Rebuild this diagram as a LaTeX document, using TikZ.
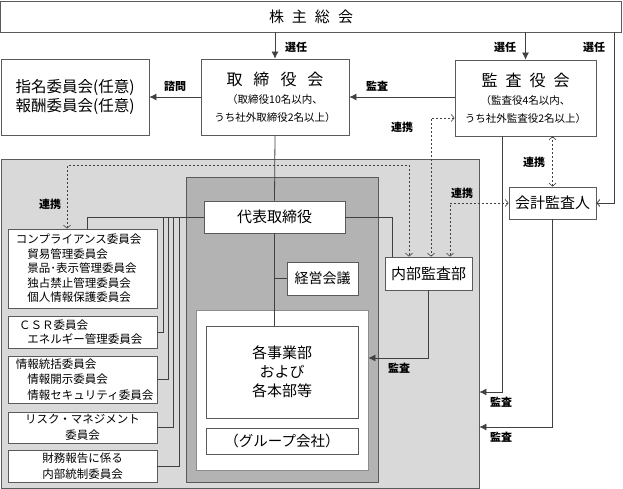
\documentclass[tikz,border=0pt]{standalone}
\usepackage{fontspec}
\setmainfont{Noto Sans CJK JP}
\usetikzlibrary{arrows.meta}
\definecolor{zonegray}{HTML}{D9D9D9}
\definecolor{execgray}{HTML}{B3B3B3}
\definecolor{boxline}{HTML}{5A5A5A}
\definecolor{lineclr}{HTML}{404040}
\definecolor{framegray}{HTML}{8C8C8C}

\begin{document}
\begin{tikzpicture}
[x=1pt,y=-1pt]
\tikzset{box/.style={draw=boxline,fill=white,line width=.8pt,inner sep=0pt}}
\tikzset{com/.style={box,minimum width=149,text width=133,inner xsep=8,align=left,font=\fontsize{11.5}{14.5}\selectfont}}
\tikzset{comc/.style={com,align=center,font=\fontsize{11.5}{16}\selectfont}}
\tikzset{conn/.style={draw=lineclr,line width=.8pt}}
\tikzset{arr/.style={conn,-{Latex[length=7pt,width=7pt]}}}
\tikzset{renkei/.style={conn,line width=.6pt,dash pattern=on 2pt off 2pt,{Straight Barb[length=3pt,width=7pt]}-{Straight Barb[length=3pt,width=7pt]}}}
\tikzset{lbl/.style={font=\fontsize{11}{13}\selectfont\bfseries,inner sep=1pt}}
\useasboundingbox (0,0) rectangle (623,489);

% areas
\node [draw=boxline,fill=zonegray,line width=.8pt,minimum width=478,minimum height=329,inner sep=0] (zone) at (240,323.5) {};
\node [draw=boxline,fill=execgray,line width=.8pt,minimum width=192,minimum height=305,inner sep=0] (shikko) at (282,329.5) {};
\node [draw=framegray,fill=white,line width=.8pt,minimum width=172,minimum height=160,inner sep=0] (kaisha) at (282,390) {};

% top level
\node [box,minimum width=621,minimum height=31,font=\fontsize{15}{18}\selectfont] (soukai) at (311,16.5) {株\hspace{8pt}主\hspace{8pt}総\hspace{8pt}会};
\node [box,minimum width=148,minimum height=76,align=center,font=\fontsize{15.5}{19}\selectfont] (shimei) at (75,97) {指名委員会(任意)\\報酬委員会(任意)};
\node [box,minimum width=148,minimum height=76,align=center,font=\fontsize{10.5}{18}\selectfont] (torishimari) at (275,97) {{\fontsize{16}{18}\selectfont 取\hspace{11pt}締\hspace{11pt}役\hspace{11pt}会}\\（取締役10名以内、\\うち社外取締役2名以上）};
\node [box,minimum width=141,minimum height=76,align=center,font=\fontsize{10.5}{18}\selectfont] (kansayaku) at (525.5,98) {{\fontsize{16}{18}\selectfont 監\hspace{8pt}査\hspace{8pt}役\hspace{8pt}会}\\（監査役4名以内、\\うち社外監査役2名以上）};

% execution
\node [box,minimum width=141,minimum height=32,font=\fontsize{15}{18}\selectfont] (daihyo) at (274.5,217) {代表取締役};
\node [box,minimum width=71,minimum height=33,font=\fontsize{14}{17}\selectfont] (keiei) at (322.5,278.5) {経営会議};
\node [box,minimum width=152,minimum height=92,align=center,font=\fontsize{15}{19}\selectfont] (jigyo) at (282,372) {各事業部\\および\\各本部等};
\node [box,minimum width=152,minimum height=26,font=\fontsize{14.5}{17}\selectfont] (group) at (282,441) {（グループ会社）};
\node [box,minimum width=87,minimum height=33,font=\fontsize{15}{18}\selectfont] (naibu) at (428.5,273.5) {内部監査部};
\node [box,minimum width=87,minimum height=32,font=\fontsize{15}{18}\selectfont] (kaikei) at (552.5,203) {会計監査人};

% committees
\node [com,minimum height=79] (compliance) at (82.5,268.5) {コンプライアンス委員会\\\hspace*{1em}貿易管理委員会\\\hspace*{1em}景品･表示管理委員会\\\hspace*{1em}独占禁止管理委員会\\\hspace*{1em}個人情報保護委員会};
\node [com,minimum height=32] (csr) at (82.5,332) {\hspace*{3pt}ＣＳＲ委員会\\\hspace*{1em}エネルギー管理委員会};
\node [com,minimum height=47,font=\fontsize{11.5}{15.5}\selectfont] (joho) at (82.5,379.5) {情報統括委員会\\\hspace*{1em}情報開示委員会\\\hspace*{1em}情報セキュリティ委員会};
\node [comc,minimum height=31] (risk) at (82.5,427.5) {リスク・マネジメント\\委員会};
\node [comc,minimum height=32] (zaimu) at (82.5,466) {財務報告に係る\\内部統制委員会};

% lines
\draw [conn] (torishimari.south) -- (daihyo.north);
\draw [conn] (daihyo.south) -- (daihyo.south |- jigyo.north);
\draw [conn] (daihyo.south |- keiei.west) -- (keiei.west);
\draw [conn] (daihyo.east) -| ([xshift=-36.5]naibu.north);
\draw [conn] (daihyo.west) -| ([xshift=4.5]compliance.north);
\foreach \b/\x in {csr/163,joho/168,risk/173,zaimu/179}
	\draw [conn] (\x,0 |- daihyo.west) |- (\b.east);

% arrows
\draw [arr] (soukai.south -| torishimari.north) -- (torishimari.north);
\draw [arr] (soukai.south -| kansayaku.north) -- (kansayaku.north);
\draw [conn,-{Straight Barb[length=3pt,width=7pt]}] (soukai.south -| 614,0) |- (kaikei.east);
\draw [arr] (torishimari.west) -- (shimei.east);
\draw [arr] (kansayaku.west |- torishimari.east) -- (torishimari.east);
\draw [arr] (naibu.south) |- (kaisha.east |- 0,358);
\draw [arr] ([xshift=-23.5]kansayaku.south) |- (zone.east |- 0,392);
\draw [arr] (kaikei.south) |- (zone.east |- 0,427);

% renkei
\draw [renkei] (kaikei.north) -- (kaikei.north |- kansayaku.south);
\draw [renkei] ([yshift=-20]kansayaku.west) -| ([xshift=2.5]naibu.north);
\draw [renkei] (kaikei.west) -| ([xshift=21.5]naibu.north);
\draw [renkei] ([xshift=-15.5]compliance.north) -- ++(0,-63) -| ([xshift=-19.5]naibu.north);

% labels
\node [lbl] (s1) at (296,47) {選任};
\node [lbl] (s2) at (505,47) {選任};
\node [lbl] (s3) at (594,47) {選任};
\node [lbl] (sm) at (175,86) {諮問};
\node [lbl] (k1) at (377,86) {監査};
\node [lbl] (r1) at (402,127) {連携};
\node [lbl] (r2) at (534,162) {連携};
\node [lbl] (r3) at (462,193) {連携};
\node [lbl] (r4) at (50,204) {連携};
\node [lbl] (k2) at (399,368) {監査};
\node [lbl] (k3) at (501,402) {監査};
\node [lbl] (k4) at (501,437) {監査};
\end{tikzpicture}
\end{document}
